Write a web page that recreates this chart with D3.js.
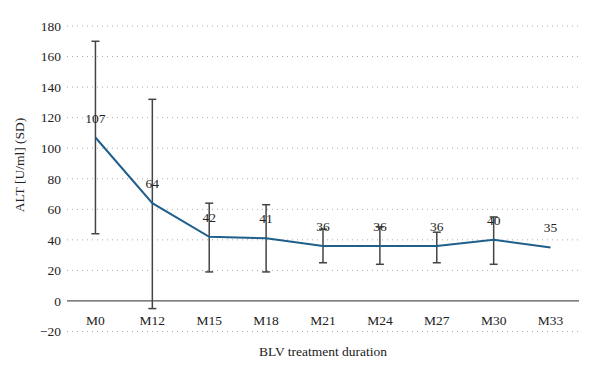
<!DOCTYPE html>
<html><head><meta charset="utf-8">
<script src="https://cdn.jsdelivr.net/npm/d3@7"></script>
<style>body{margin:0;background:#fff}</style>
</head><body>
<svg id="c" width="600" height="374"></svg>
<script>
const categories = ["M0","M12","M15","M18","M21","M24","M27","M30","M33"];
const means = [107,64,42,41,36,36,36,40,35];
const upper = [170,132,64,63,47,48.5,45,55,null];
const lower = [44,-5,19,19,25,24,25,24,null];
const yTicks = [-20,0,20,40,60,80,100,120,140,160,180];

const svg = d3.select("#c");
const font = "'Liberation Serif', 'DejaVu Serif', serif";
const x = d3.scaleBand().domain(categories).range([67,579]);
const y = d3.scaleLinear().domain([-20,180]).range([331.5,26]);
const cx = d => x(d) + x.bandwidth()/2;

// gridlines
svg.append("g").selectAll("line").data(yTicks.filter(t=>t!==0)).join("line")
  .attr("x1",67).attr("x2",579).attr("y1",d=>y(d)).attr("y2",d=>y(d))
  .attr("stroke","#aaa").attr("stroke-width",1).attr("stroke-dasharray","1,4");

// y axis labels
const ya = svg.append("g").attr("transform","translate(67,0)")
  .call(d3.axisLeft(y).tickValues(yTicks).tickSize(0).tickPadding(6));
ya.select(".domain").remove();
ya.selectAll("text").attr("font-family",font).attr("font-size",13.5).attr("fill","#222");

// zero axis
svg.append("line").attr("x1",67).attr("x2",579).attr("y1",y(0)).attr("y2",y(0))
  .attr("stroke","#555").attr("stroke-width",1.3);

// x labels
const xa = svg.append("g").attr("transform",`translate(0,${y(0)})`)
  .call(d3.axisBottom(x).tickSize(0).tickPadding(14));
xa.select(".domain").remove();
xa.selectAll("text").attr("font-family",font).attr("font-size",13.5).attr("fill","#222");

// error bars
const eb = categories.map((c,i)=>({c,u:upper[i],l:lower[i]})).filter(d=>d.u!==null);
const g = svg.append("g").attr("stroke","#444").attr("stroke-width",1.5);
g.selectAll(".v").data(eb).join("line").attr("x1",d=>cx(d.c)).attr("x2",d=>cx(d.c))
  .attr("y1",d=>y(d.u)).attr("y2",d=>y(d.l));
g.selectAll(".t").data(eb).join("line").attr("x1",d=>cx(d.c)-4).attr("x2",d=>cx(d.c)+4)
  .attr("y1",d=>y(d.u)).attr("y2",d=>y(d.u));
g.selectAll(".b").data(eb).join("line").attr("x1",d=>cx(d.c)-4).attr("x2",d=>cx(d.c)+4)
  .attr("y1",d=>y(d.l)).attr("y2",d=>y(d.l));

// line
const pts = categories.map((c,i)=>[cx(c),y(means[i])]);
svg.append("path").attr("d",d3.line()(pts)).attr("fill","none")
  .attr("stroke","#1f5f8b").attr("stroke-width",2);

// data labels
svg.append("g").selectAll("text").data(categories).join("text")
  .attr("x",d=>cx(d)).attr("y",(d,i)=>y(means[i])-15)
  .attr("text-anchor","middle").attr("font-family",font).attr("font-size",13.5).attr("fill","#222")
  .text((d,i)=>means[i]);

// axis titles
svg.append("text").attr("transform","translate(24,165) rotate(-90)")
  .attr("text-anchor","middle").attr("font-family",font).attr("font-size",13.5).attr("fill","#222")
  .text("ALT [U/ml] (SD)");
svg.append("text").attr("x",323).attr("y",356).attr("text-anchor","middle")
  .attr("font-family",font).attr("font-size",13.5).attr("fill","#222")
  .text("BLV treatment duration");
</script>
</body></html>
